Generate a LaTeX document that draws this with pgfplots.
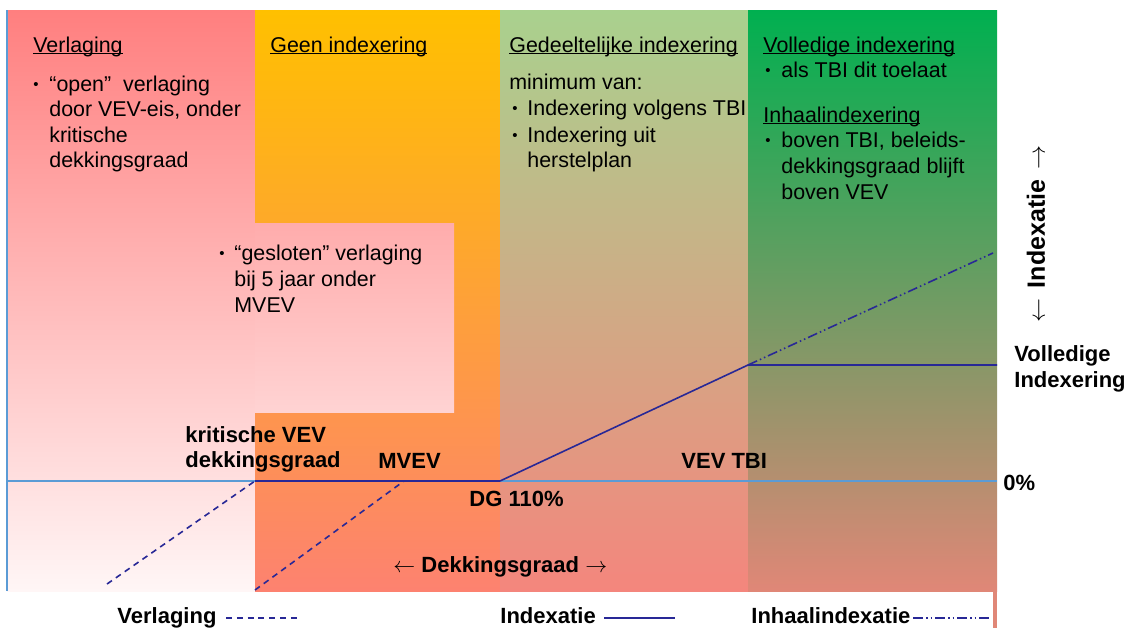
\documentclass[border=0pt]{standalone}
\usepackage{pgfplots}
\pgfplotsset{compat=1.18}
\usepackage{fontspec}
\setmainfont{Liberation Sans}

\definecolor{redtop}{HTML}{FF7F7F}
\definecolor{redbot}{RGB}{255,246,246}
\definecolor{pinktop}{RGB}{255,172,172}
\definecolor{pinkbot}{RGB}{255,211,211}
\definecolor{orangetop}{HTML}{FFC000}
\definecolor{orangebot}{RGB}{253,130,112}
\definecolor{lgreentop}{HTML}{A9D18E}
\definecolor{lgreenbot}{RGB}{244,134,125}
\definecolor{dgreentop}{HTML}{00B050}
\definecolor{dgreenbot}{RGB}{224,135,119}
\definecolor{navy}{RGB}{40,40,150}
\definecolor{lblue}{RGB}{91,155,213}

\newcommand\ul[1]{\setbox0\hbox{#1}\rlap{\rule[-0.9pt]{\wd0}{0.55pt}}\box0}
\newcommand\bul{\raisebox{0.9pt}{\fontsize{7.5}{8}\selectfont\textbullet}}

\tikzset{
  txt/.style={anchor=base west, inner sep=0pt, font=\fontsize{10.7}{12}\selectfont},
  btxt/.style={anchor=base west, inner sep=0pt, font=\fontsize{11}{12}\selectfont\bfseries},
  dashv/.style={dash pattern=on 3pt off 2.4pt},
  dashdd/.style={dash pattern=on 5pt off 1.5pt on 0.75pt off 1.5pt on 0.75pt off 1.5pt},
}

\begin{document}
\begin{tikzpicture}
\begin{axis}[
  width=564pt, height=314pt, scale only axis,
  xmin=0, xmax=1128, ymin=0, ymax=628,
  y dir=reverse,
  hide axis, clip=false,
]
% background
\addplot[draw=none, fill=white] coordinates {(0,0) (1128,0) (1128,628) (0,628)} -- cycle;

% columns
\addplot[draw=none, top color=redtop, bottom color=redbot] coordinates {(7,10) (255,10) (255,591) (7,591)} -- cycle;
\addplot[draw=none, top color=orangetop, bottom color=orangebot] coordinates {(255,10) (500,10) (500,591) (255,591)} -- cycle;
\addplot[draw=none, top color=lgreentop, bottom color=lgreenbot] coordinates {(500,10) (748,10) (748,591) (500,591)} -- cycle;
\addplot[draw=none, top color=dgreentop, bottom color=dgreenbot] coordinates {(748,10) (997,10) (997,591) (748,591)} -- cycle;
\addplot[draw=none, fill=dgreenbot] coordinates {(993,590) (997,590) (997,628) (993,628)} -- cycle;
% "gesloten" box
\addplot[draw=none, top color=pinktop, bottom color=pinkbot] coordinates {(255,223) (454,223) (454,412) (255,412)} -- cycle;

% axes lines
\addplot[lblue, line width=0.8pt] coordinates {(7,481) (997,481)};
\addplot[lblue, line width=1pt] coordinates {(7,10) (7,591)};

% curves
\addplot[navy, line width=1.2pt] coordinates {(255,481) (500,481)};
\addplot[navy, line width=0.8pt] coordinates {(500,481) (748,365) (997,365)};
\addplot[navy, line width=0.8pt, dashdd] coordinates {(748,365) (993,253)};
\addplot[navy, line width=0.8pt, dashv] coordinates {(107,584) (255,481)};
\addplot[navy, line width=0.8pt, dashv] coordinates {(255,590) (404,481)};

% legend lines
\addplot[navy, line width=0.8pt, dashv] coordinates {(226,618) (297,618)};
\addplot[navy, line width=0.8pt] coordinates {(604,618) (675,618)};
\addplot[navy, line width=0.8pt, dashdd] coordinates {(913,618) (990,618)};

% column texts
\node[txt] at (axis cs:33,52) {\ul{Verlaging}};
\node[txt] at (axis cs:33,91) {\bul};
\node[txt] at (axis cs:49,91) {“open”\ \ verlaging};
\node[txt] at (axis cs:49,116.5) {door VEV-eis, onder};
\node[txt] at (axis cs:49,142) {kritische};
\node[txt] at (axis cs:49,167.5) {dekkingsgraad};

\node[txt] at (axis cs:270,52) {\ul{Geen indexering}};

\node[txt] at (axis cs:509,52) {\ul{Gedeeltelijke indexering}};
\node[txt] at (axis cs:509,89) {minimum van:};
\node[txt] at (axis cs:512,115) {\bul};
\node[txt] at (axis cs:527,115) {Indexering volgens TBI};
\node[txt] at (axis cs:512,142) {\bul};
\node[txt] at (axis cs:527,142) {Indexering uit};
\node[txt] at (axis cs:527,167.5) {herstelplan};

\node[txt] at (axis cs:763,52) {\ul{Volledige indexering}};
\node[txt] at (axis cs:765,77) {\bul};
\node[txt] at (axis cs:781,77) {als TBI dit toelaat};
\node[txt] at (axis cs:763,122) {\ul{Inhaalindexering}};
\node[txt] at (axis cs:765,147) {\bul};
\node[txt] at (axis cs:781,147) {boven TBI, beleids-};
\node[txt] at (axis cs:781,173) {dekkingsgraad blijft};
\node[txt] at (axis cs:781,199) {boven VEV};

\node[txt] at (axis cs:219,260) {\bul};
\node[txt] at (axis cs:234,260) {“gesloten”\ verlaging};
\node[txt] at (axis cs:234,286) {bij 5 jaar onder};
\node[txt] at (axis cs:234,312) {MVEV};

% bold labels
\node[btxt] at (axis cs:185,442) {kritische VEV};
\node[btxt] at (axis cs:185,467) {dekkingsgraad};
\node[btxt] at (axis cs:378,468) {MVEV};
\node[btxt] at (axis cs:469,506) {DG 110\%};
\node[btxt] at (axis cs:681,468) {VEV TBI};
\node[btxt] at (axis cs:393,572) {$\leftarrow$ Dekkingsgraad $\rightarrow$};
\node[btxt] at (axis cs:1003,490) {0\%};
\node[btxt] at (axis cs:1014,361) {Volledige};
\node[btxt] at (axis cs:1014,387) {Indexering};
\node[btxt, anchor=center, rotate=90, font=\fontsize{12.5}{13}\selectfont\bfseries] at (axis cs:1036,234) {$\leftarrow$\hspace{5pt}Indexatie\hspace{5pt}$\rightarrow$};

% legend texts
\node[btxt] at (axis cs:117,623) {Verlaging};
\node[btxt] at (axis cs:500,623) {Indexatie};
\node[btxt] at (axis cs:751,623) {Inhaalindexatie};
\end{axis}
\end{tikzpicture}
\end{document}
